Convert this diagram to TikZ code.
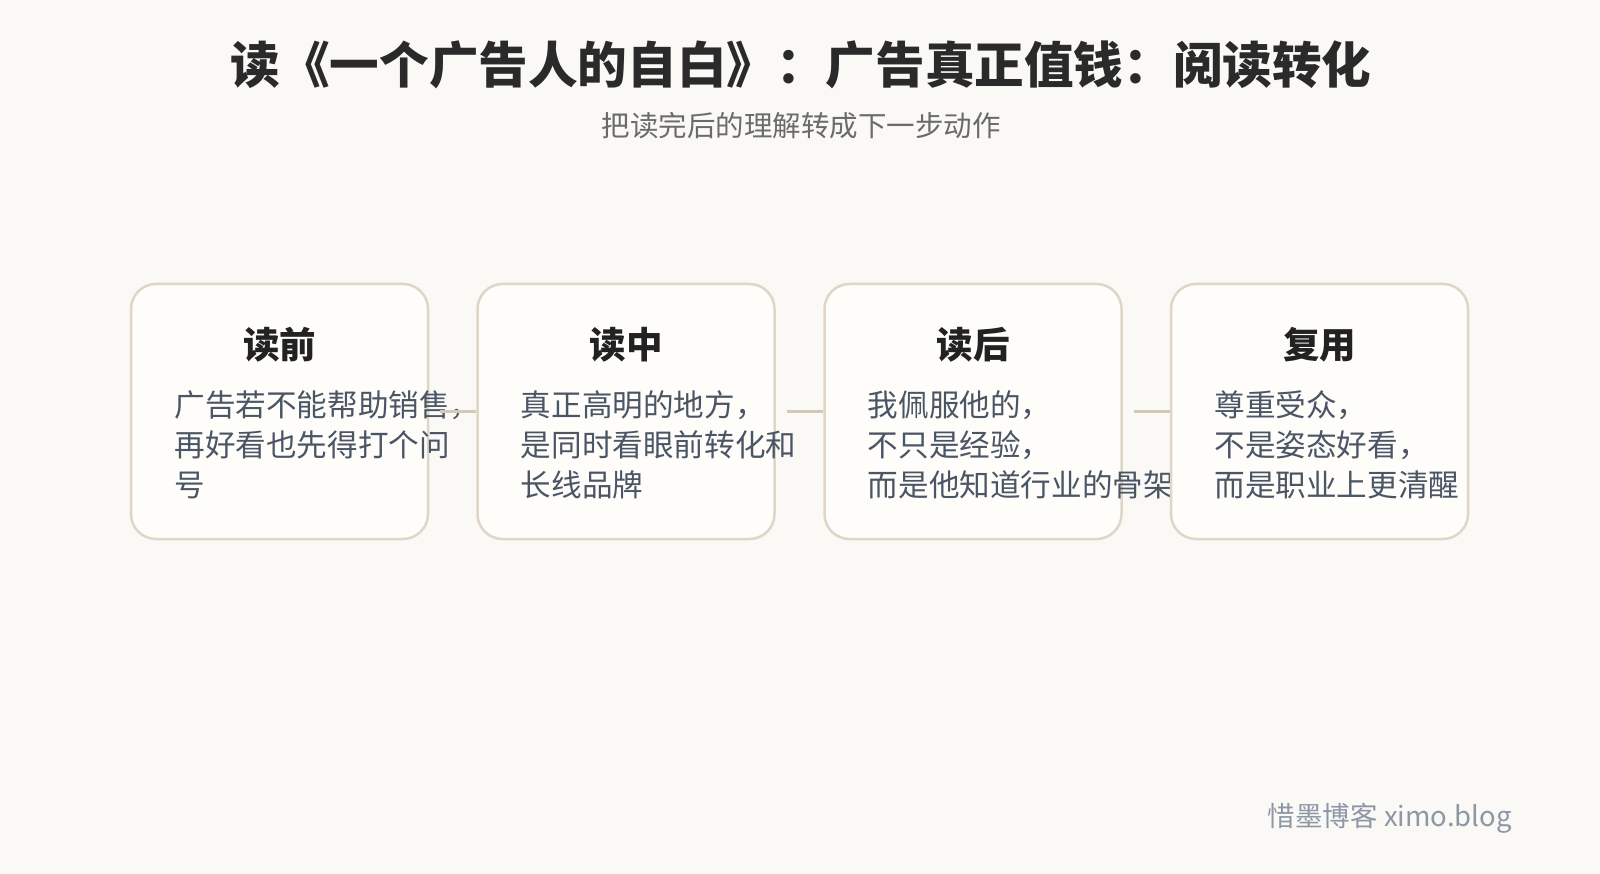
\documentclass[tikz,border=0pt]{standalone}
\usepackage{fontspec}
\setmainfont{Noto Sans CJK SC}
\usetikzlibrary{calc}
\definecolor{bgc}{HTML}{FAF9F6}
\definecolor{boxfill}{HTML}{FEFDFA}
\definecolor{boxline}{HTML}{DFD6C6}
\definecolor{conn}{HTML}{D4C9B5}
\definecolor{titlec}{HTML}{2A2A2A}
\definecolor{subc}{HTML}{6B6B6B}
\definecolor{headc}{HTML}{222222}
\definecolor{bodyc}{HTML}{4A5565}
\definecolor{footc}{HTML}{8D97A6}
\tikzset{
  stepbox/.style={draw=boxline, fill=boxfill, line width=2.5pt, rounded corners=25pt,
    minimum width=297pt, minimum height=255pt, inner sep=0pt},
  connline/.style={draw=conn, line width=3.5pt},
  headtxt/.style={anchor=base, inner sep=0pt, text=headc, font=\fontsize{36.5}{40}\selectfont\bfseries},
  bodytxt/.style={anchor=base west, inner sep=0pt, text=bodyc, font=\fontsize{30.6}{40}\selectfont},
}
\begin{document}
\begin{tikzpicture}[x=1pt,y=-1pt]
\fill[bgc] (0,0) rectangle (1600,874);
\useasboundingbox (0,0) rectangle (1600,874);

\node[anchor=base, inner sep=0pt, text=titlec, font=\fontsize{49.6}{56}\selectfont\bfseries] (title) at (801,84) {读《一个广告人的自白》：广告真正值钱：阅读转化};
\node[anchor=base, inner sep=0pt, text=subc, font=\fontsize{28.5}{32}\selectfont] (sub) at (801,137) {把读完后的理解转成下一步动作};

% step 1
\node[stepbox] (b1) at (279.5,411.5) {};
\node[headtxt] (h1) at ([yshift=53.5pt]b1.center) {读前};
\node[bodytxt] (t1a) at ([xshift=44.5pt,yshift=-4.5pt]b1.west) {广告若不能帮助销售，};
\node[bodytxt] (t1b) at ([xshift=44.5pt,yshift=-44.5pt]b1.west) {再好看也先得打个问};
\node[bodytxt] (t1c) at ([xshift=44.5pt,yshift=-84.5pt]b1.west) {号};

% step 2
\node[stepbox] (b2) at (626,411.5) {};
\draw[connline] ([xshift=11pt]b1.east) -- (b2.west);
\node[headtxt] (h2) at ([yshift=53.5pt]b2.center) {读中};
\node[bodytxt] (t2a) at ([xshift=44.5pt,yshift=-4.5pt]b2.west) {真正高明的地方，};
\node[bodytxt] (t2b) at ([xshift=44.5pt,yshift=-44.5pt]b2.west) {是同时看眼前转化和};
\node[bodytxt] (t2c) at ([xshift=44.5pt,yshift=-84.5pt]b2.west) {长线品牌};

% step 3
\node[stepbox] (b3) at (973,411.5) {};
\draw[connline] ([xshift=11pt]b2.east) -- (b3.west);
\node[headtxt] (h3) at ([yshift=53.5pt]b3.center) {读后};
\node[bodytxt] (t3a) at ([xshift=44.5pt,yshift=-4.5pt]b3.west) {我佩服他的，};
\node[bodytxt] (t3b) at ([xshift=44.5pt,yshift=-44.5pt]b3.west) {不只是经验，};
\node[bodytxt] (t3c) at ([xshift=44.5pt,yshift=-84.5pt]b3.west) {而是他知道行业的骨架};

% step 4
\node[stepbox] (b4) at (1319.5,411.5) {};
\draw[connline] ([xshift=11pt]b3.east) -- (b4.west);
\node[headtxt] (h4) at ([yshift=53.5pt]b4.center) {复用};
\node[bodytxt] (t4a) at ([xshift=44.5pt,yshift=-4.5pt]b4.west) {尊重受众，};
\node[bodytxt] (t4b) at ([xshift=44.5pt,yshift=-44.5pt]b4.west) {不是姿态好看，};
\node[bodytxt] (t4c) at ([xshift=44.5pt,yshift=-84.5pt]b4.west) {而是职业上更清醒};

\node[anchor=base east, inner sep=0pt, text=footc, font=\fontsize{27.5}{30}\selectfont] (foot) at (1512,826) {惜墨博客 ximo.blog};
\end{tikzpicture}
\end{document}
